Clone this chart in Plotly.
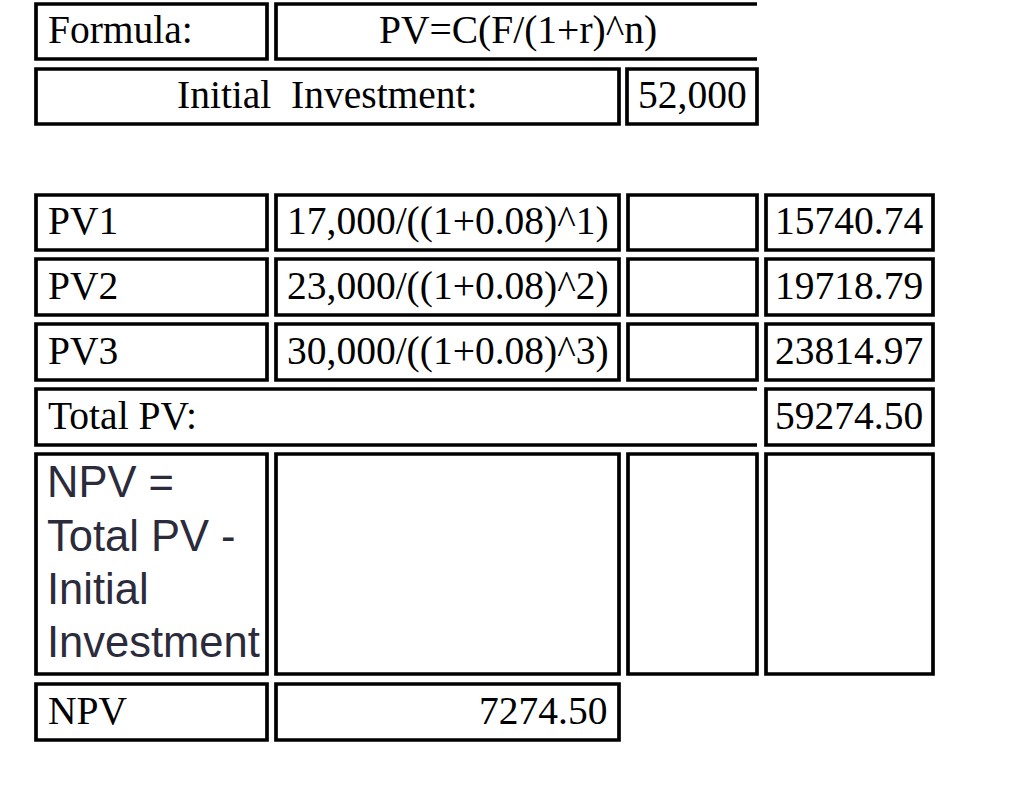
import plotly.graph_objects as go

# data
formula_text = "PV=C(F/(1+r)^n)"
initial_investment = "52,000"
pv_labels = ["PV1", "PV2", "PV3"]
pv_formulas = ["17,000/((1+0.08)^1)", "23,000/((1+0.08)^2)", "30,000/((1+0.08)^3)"]
pv_values = ["15740.74", "19718.79", "23814.97"]
total_pv = "59274.50"
npv_note = ["NPV =", "Total PV -", "Initial", "Investment"]
npv_value = "7274.50"

# layout grid (pixels, y downwards)
COLS = [(36, 267), (276, 619), (628, 757), (766, 933)]
ROWS = {"formula": (4, 59), "init": (69, 124), "pv1": (195, 250), "pv2": (259, 315),
        "pv3": (324, 380), "total": (389, 445), "note": (454, 674), "npv": (684, 740)}
NOTE_LINES = [482, 536, 589, 642]
LW = 3.7
SERIF = dict(family="Liberation Serif, Times New Roman, serif", size=39.5, color="black")
SANS = dict(family="Liberation Sans, Arial, sans-serif", size=43.5, color="#2b2b3b")

fig = go.Figure()


def box(x0, x1, row, open_right=False):
    y0, y1 = ROWS[row]
    if open_right:
        fig.add_shape(type="path", path=f"M {x1},{y0} L {x0},{y0} L {x0},{y1} L {x1},{y1}",
                      line=dict(color="black", width=LW), xref="x", yref="y")
    else:
        fig.add_shape(type="rect", x0=x0, x1=x1, y0=y0, y1=y1,
                      line=dict(color="black", width=LW), xref="x", yref="y")


def label(text, x, row, anchor="left", font=SERIF):
    y0, y1 = ROWS[row]
    fig.add_annotation(x=x, y=(y0 + y1) / 2 - 1.5, text=text, showarrow=False,
                       xanchor=anchor, yanchor="middle", font=font, xref="x", yref="y")


# formula row
box(36, 267, "formula")
box(276, 757, "formula", open_right=True)
label("Formula:", 46, "formula")
label(formula_text, 518, "formula", "center")

# initial investment row
box(36, 619, "init")
box(627, 757, "init")
label("Initial\u00a0\u00a0Investment:", 327, "init", "center")
label(initial_investment, 692, "init", "center")

# present values
for i, row in enumerate(["pv1", "pv2", "pv3"]):
    for c0, c1 in COLS:
        box(c0, c1, row)
    label(pv_labels[i], 46, row)
    label(pv_formulas[i], 285, row)
    label(pv_values[i], 849, row, "center")

# total
box(36, 757, "total", open_right=True)
box(766, 933, "total")
label("Total PV:", 46, "total")
label(total_pv, 849, "total", "center")

# note row
for c0, c1 in COLS:
    box(c0, c1, "note")
for line, yc in zip(npv_note, NOTE_LINES):
    fig.add_annotation(x=45, y=yc, text=line, showarrow=False, xanchor="left",
                       yanchor="middle", font=SANS, xref="x", yref="y")

# npv row
box(36, 267, "npv")
box(276, 619, "npv")
label("NPV", 46, "npv")
label(npv_value, 609, "npv", "right")

fig.update_xaxes(range=[0, 1024], visible=False, fixedrange=True)
fig.update_yaxes(range=[791, 0], visible=False, fixedrange=True)
fig.update_layout(width=1024, height=791, margin=dict(l=0, r=0, t=0, b=0),
                  plot_bgcolor="white", paper_bgcolor="white", showlegend=False)

# drop the default page margin so the sheet sits at the window corner
fig.write_html("out.html", config={"displayModeBar": False},
               post_script="document.body.style.margin='0px';")
